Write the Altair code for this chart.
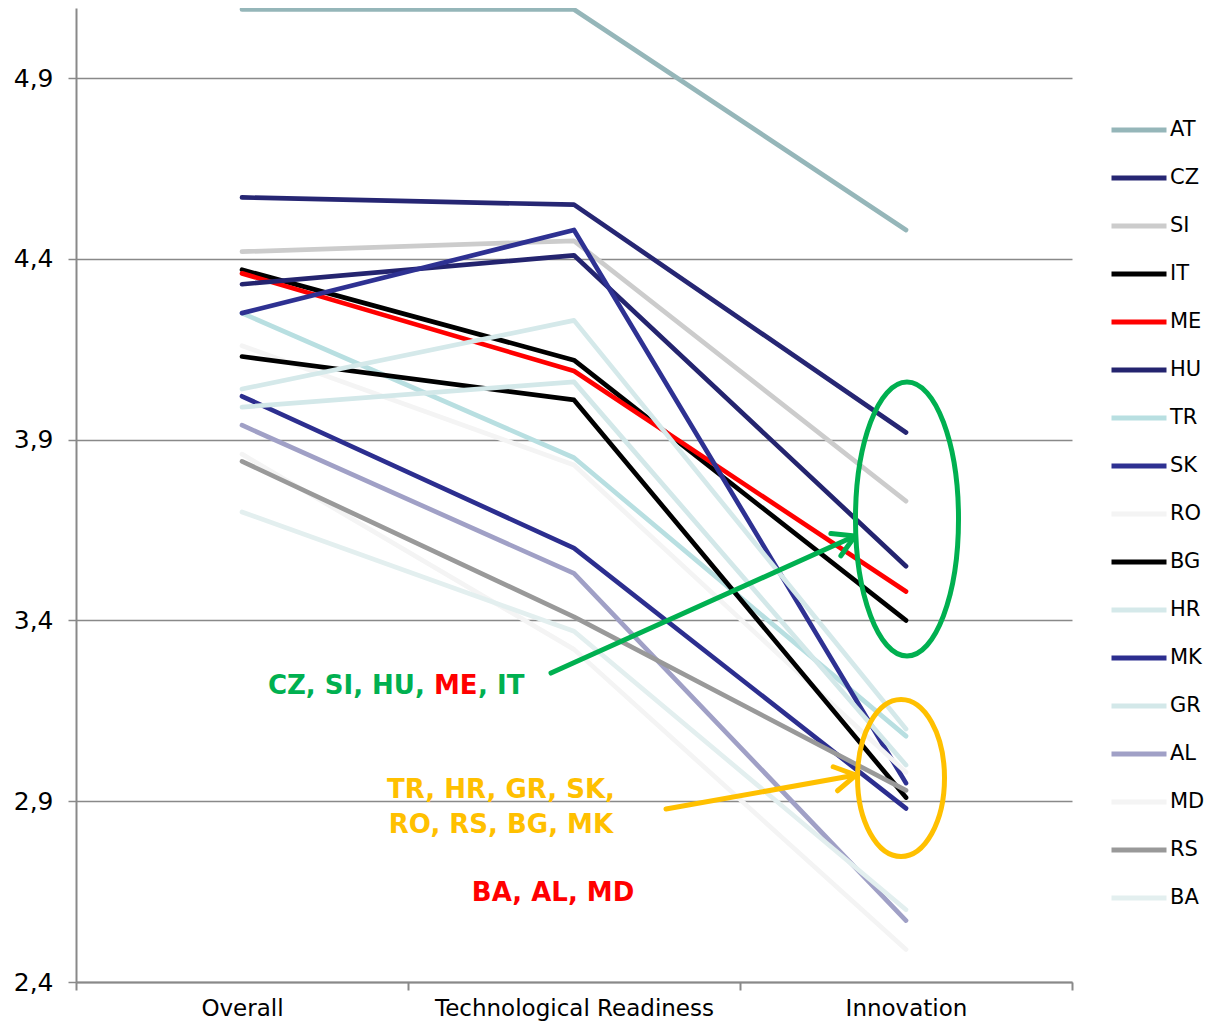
import math
import altair as alt
import pandas as pd

# ---------------- data ----------------
countries = ["AT", "CZ", "SI", "IT", "ME", "HU", "TR", "SK", "RO",
             "BG", "HR", "MK", "GR", "AL", "MD", "RS", "BA"]
colors = ["#95b6b9", "#262673", "#cccccc", "#000000", "#ff0000", "#24246f",
          "#b8dfe1", "#2e3192", "#f4f4f4", "#000000", "#d5e9ea", "#2c2e8f",
          "#d3e8e9", "#a0a0c6", "#f4f4f4", "#999999", "#e3efef"]
categories = ["Overall", "Technological Readiness", "Innovation"]
overall = [5.09, 4.57, 4.42, 4.37, 4.36, 4.33, 4.25, 4.25, 4.16,
           4.13, 4.04, 4.02, 3.99, 3.94, 3.86, 3.84, 3.70]
tech = [5.09, 4.55, 4.45, 4.12, 4.09, 4.41, 3.85, 4.48, 3.83,
        4.01, 4.23, 3.60, 4.06, 3.53, 3.32, 3.41, 3.37]
innovation = [4.48, 3.92, 3.73, 3.40, 3.48, 3.55, 3.08, 2.95, 2.98,
              2.91, 3.10, 2.88, 3.00, 2.57, 2.49, 2.93, 2.60]
y_ticks = [2.4, 2.9, 3.4, 3.9, 4.4, 4.9]

# annotations (data coordinates)
ann_text = ["CZ, SI, HU,", "ME", ", IT", "TR, HR, GR, SK,", "RO, RS, BG, MK", "BA, AL, MD"]
ann_x = [0.078, 0.578, 0.711, 0.780, 0.780, 0.937]
ann_y = [3.219, 3.219, 3.219, 2.931, 2.834, 2.646]
ann_align = ["left", "left", "left", "center", "center", "center"]
ann_color = ["#00b050", "#ff0000", "#00b050", "#ffc000", "#ffc000", "#ff0000"]

arrow_x0 = [0.9307, 1.2771]
arrow_y0 = [3.2545, 2.8785]
arrow_x1 = [1.8464, 1.8494]
arrow_y1 = [3.6334, 2.9724]
arrow_color = ["#00b050", "#ffc000"]

ell_x = [2.003, 1.985]
ell_y = [3.6805, 2.9641]
ell_ratio = [0.376, 0.554]
ell_height = [274, 157]
ell_color = ["#00b050", "#ffc000"]

# ---------------- geometry ----------------
W, H = 996, 974
XDOM = [-0.5, 2.5]
YDOM = [2.4, 5.094]
px_x = W / (XDOM[1] - XDOM[0])
px_y = H / (YDOM[1] - YDOM[0])

rows = []
for i, c in enumerate(countries):
    for j, vals in enumerate([overall, tech, innovation]):
        rows.append({"country": c, "pos": j, "category": categories[j], "score": vals[i]})
df = pd.DataFrame(rows)

xscale = alt.Scale(domain=XDOM, nice=False, zero=False)
yscale = alt.Scale(domain=YDOM, nice=False, zero=False)

label_expr = " : ".join(
    [f"datum.value == {j} ? '{name}'" for j, name in enumerate(categories)]
) + " : ''"

AX = "#898989"
FONT = "DejaVu Sans"

x_axis = alt.Axis(
    values=[-0.5, 0, 0.5, 1, 1.5, 2, 2.5], labelExpr=label_expr, title=None,
    grid=False, domainColor=AX, domainWidth=2, tickColor=AX, tickWidth=2,
    tickSize=8, tickOpacity={"condition": {"test": "datum.value % 1 != 0", "value": 1}, "value": 0},
    labelFontSize=23, labelFont=FONT, labelColor="#000000", labelPadding=7,
    labelFlush=False, labelOverlap=False, labelLimit=0,
)
y_axis = alt.Axis(
    values=y_ticks, labelExpr="replace(format(datum.value, '.1f'), '.', ',')",
    title=None, grid=True, gridColor=AX, gridWidth=1.5, domainColor=AX,
    domainWidth=2, tickColor=AX, tickWidth=1.5, tickSize=8,
    labelFontSize=25, labelFont=FONT, labelColor="#000000", labelPadding=15,
)

lines = alt.Chart(df).mark_line(strokeWidth=4.7, strokeCap="round", strokeJoin="round").encode(
    x=alt.X("pos:Q", scale=xscale, axis=x_axis),
    y=alt.Y("score:Q", scale=yscale, axis=y_axis),
    color=alt.Color(
        "country:N", sort=countries,
        scale=alt.Scale(domain=countries, range=colors),
        legend=alt.Legend(
            title=None, orient="none", legendX=1033, legendY=92,
            symbolType="stroke", symbolSize=3025, symbolStrokeWidth=5,
            labelFontSize=21, labelFont=FONT, labelColor="#000000",
            rowPadding=8, labelOffset=1,
        ),
    ),
    order=alt.Order("pos:Q"),
)

# annotation texts
ann_df = pd.DataFrame({"t": ann_text, "x": ann_x, "y": ann_y, "a": ann_align, "c": ann_color})
text_layers = []
for al in ["left", "center"]:
    sub = ann_df[ann_df["a"] == al]
    text_layers.append(
        alt.Chart(sub).mark_text(align=al, baseline="middle", font=FONT, fontSize=26,
                                 fontWeight="bold").encode(
            x=alt.X("x:Q", scale=xscale),
            y=alt.Y("y:Q", scale=yscale),
            text="t:N",
            color=alt.Color("c:N", scale=None),
        )
    )

# arrows
arrow_layers = []
for k in range(len(arrow_x0)):
    seg = pd.DataFrame({"x": [arrow_x0[k], arrow_x1[k]], "y": [arrow_y0[k], arrow_y1[k]]})
    arrow_layers.append(
        alt.Chart(seg).mark_line(color=arrow_color[k], strokeWidth=5, strokeCap="round").encode(
            x=alt.X("x:Q", scale=xscale), y=alt.Y("y:Q", scale=yscale)
        )
    )
    ang = math.degrees(math.atan2(-(arrow_y1[k] - arrow_y0[k]) * px_y,
                                  (arrow_x1[k] - arrow_x0[k]) * px_x)) % 360
    head = pd.DataFrame({"x": [arrow_x1[k]], "y": [arrow_y1[k]]})
    arrow_layers.append(
        alt.Chart(head).mark_point(
            shape="M -1 -0.58 L 0 0 L -1 0.58", size=1764, filled=False,
            stroke=arrow_color[k], strokeWidth=5, strokeCap="round", strokeJoin="round",
            angle=ang, opacity=1,
        ).encode(x=alt.X("x:Q", scale=xscale), y=alt.Y("y:Q", scale=yscale))
    )

# ellipses
ell_layers = []
for k in range(len(ell_x)):
    r = ell_ratio[k]
    path = f"M {-r} 0 A {r} 1 0 1 0 {r} 0 A {r} 1 0 1 0 {-r} 0 Z"
    e = pd.DataFrame({"x": [ell_x[k]], "y": [ell_y[k]]})
    ell_layers.append(
        alt.Chart(e).mark_point(
            shape=path, size=ell_height[k] ** 2, filled=False, stroke=ell_color[k],
            strokeWidth=5, opacity=1,
        ).encode(x=alt.X("x:Q", scale=xscale), y=alt.Y("y:Q", scale=yscale))
    )

chart = alt.layer(lines, *text_layers, *arrow_layers, *ell_layers).properties(
    width=W, height=H,
    autosize=alt.AutoSizeParams(type="none"),
    padding={"left": 68, "top": 0, "right": 132, "bottom": 41},
    background="white",
).configure_view(stroke=None)

chart.save("out.html", embed_options={"renderer": "svg", "actions": False})
